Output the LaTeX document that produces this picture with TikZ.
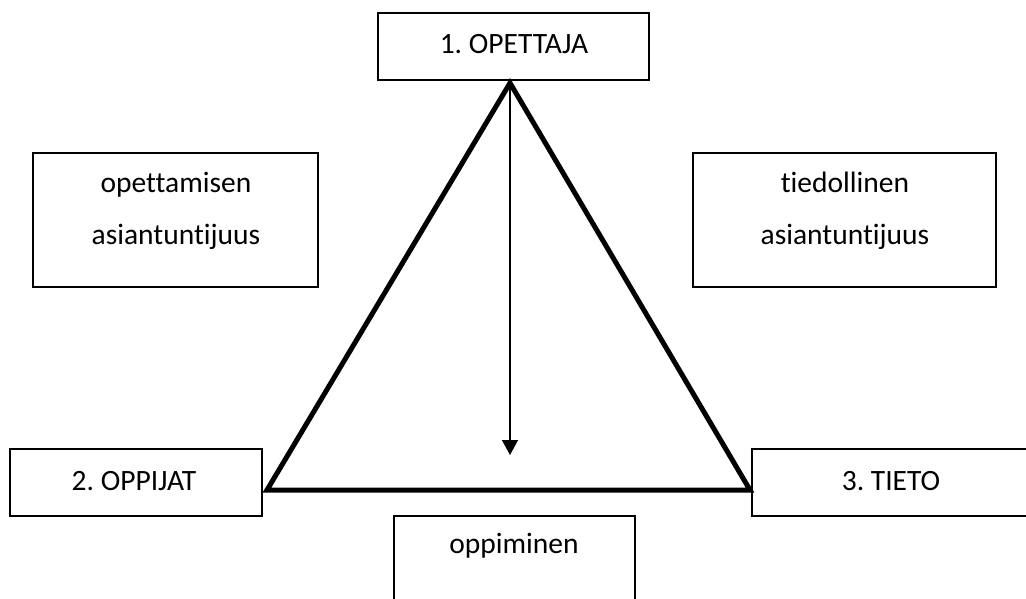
\documentclass[tikz,border=0pt]{standalone}
\usepackage{fontspec}
\setmainfont{Carlito}[Ligatures=NoCommon]
\usetikzlibrary{arrows.meta}
\frenchspacing
\begin{document}
\begin{tikzpicture}[x=1pt,y=-1pt,
  box/.style={draw=black,line width=1.6pt,rectangle,inner sep=0pt},
  txt/.style={font=\fontsize{29.5}{52}\selectfont,align=center,inner sep=0pt},
  tri/.style={line width=5pt,line join=miter},
  arr/.style={line width=1.5pt,-{Triangle[length=15pt,width=16pt]}}]
\useasboundingbox (0,0) rectangle (1026,599);
% boxes
\node[box,minimum width=271pt,minimum height=67pt] (ope) at (513.5,46.5) {};
\node[txt] (opet) at (514,44) {1. OPETTAJA};
\node[box,minimum width=285pt,minimum height=134pt] (lb) at (175.5,220) {};
\node[txt] (lbt) at (176,211) {opettamisen\\asiantuntijuus};
\node[box,minimum width=303pt,minimum height=134pt] (rb) at (844.5,220) {};
\node[txt] (rbt) at (845,211) {tiedollinen\\asiantuntijuus};
\node[box,minimum width=252pt,minimum height=67pt] (opp) at (136,482.5) {};
\node[txt] (oppt) at (134,481) {2. OPPIJAT};
\node[box,minimum width=278pt,minimum height=67pt] (tie) at (891,482.5) {};
\node[txt] (tiet) at (891,481) {3. TIETO};
\node[box,minimum width=241pt,minimum height=140pt] (opm) at (514.5,586) {};
\node[txt] (opmt) at (514,546) {oppiminen};
% triangle
\coordinate (A) at (510,83);
\coordinate (B) at (267,490);
\coordinate (C) at (750,490);
\coordinate (T) at (510,455);
\draw[tri] (A) -- (B) -- (C) -- cycle;
\draw[arr] (A) -- (T);
\end{tikzpicture}
\end{document}
